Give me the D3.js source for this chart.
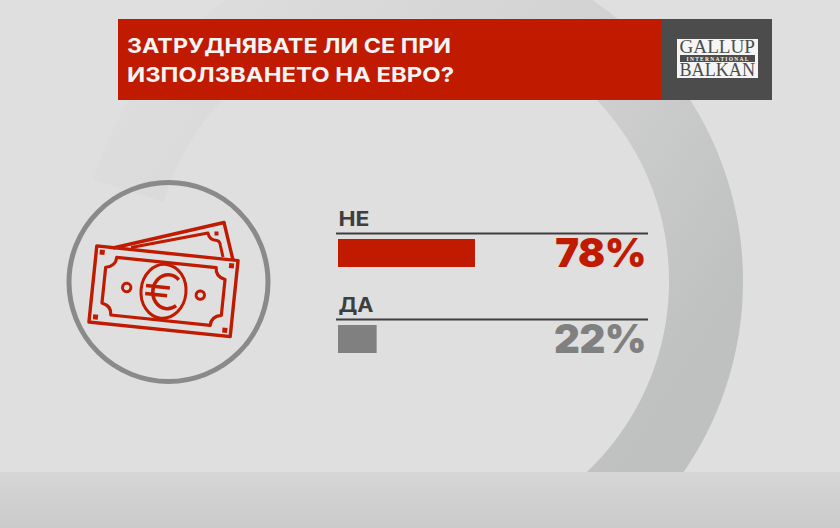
<!DOCTYPE html>
<html>
<head>
<meta charset="utf-8">
<script src="https://cdn.jsdelivr.net/npm/d3@7"></script>
<style>
  html, body { margin: 0; padding: 0; background: #dfdfdf; }
  svg { display: block; }
  text { font-family: Inter, "Open Sans", sans-serif; }
</style>
</head>
<body>
<div id="chart"></div>
<script>
const title_lines = ["ЗАТРУДНЯВАТЕ ЛИ СЕ ПРИ", "ИЗПОЛЗВАНЕТО НА ЕВРО?"];
const categories = ["НЕ", "ДА"];
const values = [78, 22];

const red = "#c01a00", grey = "#808080", dark = "#3e3e3e";

const svg = d3.select("#chart")
    .append("svg")
    .attr("width", 840)
    .attr("height", 528);

const defs = svg.append("defs");

const ring_grad = defs.append("linearGradient")
    .attr("id", "ring_grad")
    .attr("gradientUnits", "userSpaceOnUse")
    .attr("x1", 130).attr("y1", 90)
    .attr("x2", 650).attr("y2", 420);
ring_grad.append("stop").attr("offset", 0).attr("stop-color", "#dddddd");
ring_grad.append("stop").attr("offset", 0.55).attr("stop-color", "#d3d3d3");
ring_grad.append("stop").attr("offset", 1).attr("stop-color", "#bfc0c0");

const foot_grad = defs.append("linearGradient")
    .attr("id", "foot_grad")
    .attr("x1", 0).attr("y1", 0)
    .attr("x2", 0).attr("y2", 1);
foot_grad.append("stop").attr("offset", 0).attr("stop-color", "#d6d6d6");
foot_grad.append("stop").attr("offset", 1).attr("stop-color", "#cbcbcb");

// background ring, it tightens a little on the left side
const ring_cx = 406, ring_cy = 281;
const ring_angles = d3.range(-72, 170, 1).map(d => d * Math.PI / 180);
const shrink = a => a < 0 ? 8 * a / (-72 * Math.PI / 180) : 0;
const ring_point = (a, r) => [ring_cx + r * Math.sin(a), ring_cy - r * Math.cos(a)];
const outer_pts = ring_angles.map(a => ring_point(a, 337 - shrink(a)));
const inner_pts = ring_angles.map(a => ring_point(a, 263 - shrink(a))).reverse();

svg.append("path")
    .attr("d", d3.line()(outer_pts.concat(inner_pts)) + "Z")
    .attr("fill", "url(#ring_grad)");

svg.append("rect")
    .attr("x", 0).attr("y", 472)
    .attr("width", 840).attr("height", 56)
    .attr("fill", "url(#foot_grad)");

// header
svg.append("rect")
    .attr("x", 118).attr("y", 19)
    .attr("width", 544).attr("height", 81)
    .attr("fill", red);
svg.append("rect")
    .attr("x", 662).attr("y", 19)
    .attr("width", 110).attr("height", 81)
    .attr("fill", "#4c4c4c");

svg.selectAll(".title")
    .data(title_lines)
    .enter().append("text")
    .attr("class", "title")
    .attr("x", 127)
    .attr("y", (d, i) => 53 + i * 29)
    .attr("textLength", (d, i) => i == 0 ? 324 : 327)
    .attr("lengthAdjust", "spacingAndGlyphs")
    .attr("fill", "#f4f4f4")
    .attr("font-size", 20.5)
    .attr("font-weight", 700)
    .text(d => d);

// logo
const logo = svg.append("g");
logo.append("rect")
    .attr("x", 677).attr("y", 39)
    .attr("width", 81).attr("height", 39)
    .attr("fill", "#f5f5f5");
logo.append("rect")
    .attr("x", 680).attr("y", 55)
    .attr("width", 75).attr("height", 7)
    .attr("fill", "#4c4c4c");
logo.selectAll(".logo_big")
    .data([["GALLUP", 53], ["BALKAN", 75.5]])
    .enter().append("text")
    .attr("class", "logo_big")
    .attr("x", 679.5)
    .attr("y", d => d[1])
    .attr("textLength", 75.5)
    .attr("lengthAdjust", "spacingAndGlyphs")
    .attr("fill", "#4c4c4c")
    .style("font-family", "'Liberation Serif'")
    .attr("font-size", 18)
    .text(d => d[0]);
logo.append("text")
    .attr("x", 717.5)
    .attr("y", 60.7)
    .attr("text-anchor", "middle")
    .attr("textLength", 62)
    .attr("fill", "#f5f5f5")
    .style("font-family", "'Liberation Serif'")
    .attr("font-size", 5.5)
    .attr("font-weight", 700)
    .text("INTERNATIONAL");

// bars
const x = d3.scaleLinear()
    .domain([0, 100])
    .range([338, 513.6]);
const y = d3.scaleBand()
    .domain(categories)
    .range([239, 353])
    .paddingInner(58 / 86)
    .paddingOuter(0);
const color = d3.scaleOrdinal()
    .domain(categories)
    .range([red, grey]);

const rows = categories.map((c, i) => ({name: c, value: values[i]}));

svg.selectAll(".rule")
    .data(rows)
    .enter().append("line")
    .attr("class", "rule")
    .attr("x1", 336).attr("x2", 648)
    .attr("y1", d => y(d.name) - 5.5)
    .attr("y2", d => y(d.name) - 5.5)
    .attr("stroke", dark)
    .attr("stroke-width", 2);

svg.selectAll(".label")
    .data(rows)
    .enter().append("text")
    .attr("class", "label")
    .attr("x", 338.5)
    .attr("y", d => y(d.name) - 13)
    .attr("textLength", (d, i) => i == 0 ? 31 : 35)
    .attr("lengthAdjust", "spacingAndGlyphs")
    .attr("fill", dark)
    .attr("font-size", 19.5)
    .attr("font-weight", 700)
    .text(d => d.name);

svg.selectAll(".bar")
    .data(rows)
    .enter().append("rect")
    .attr("class", "bar")
    .attr("x", x(0))
    .attr("y", d => y(d.name))
    .attr("width", d => x(d.value) - x(0))
    .attr("height", y.bandwidth())
    .attr("fill", d => color(d.name));

svg.selectAll(".value")
    .data(rows)
    .enter().append("text")
    .attr("class", "value")
    .attr("x", 646)
    .attr("y", d => y(d.name) + 28)
    .attr("text-anchor", "end")
    .attr("fill", d => color(d.name))
    .attr("font-size", 40)
    .attr("font-weight", 900)
    .attr("letter-spacing", -0.5)
    .text(d => d.value + "%");

// icon
svg.append("circle")
    .attr("cx", 168.5).attr("cy", 282)
    .attr("r", 99.5)
    .attr("fill", "none")
    .attr("stroke", "#8a8a8a")
    .attr("stroke-width", 5);

const icon = svg.append("g")
    .attr("fill", "none")
    .attr("stroke", red)
    .attr("stroke-width", 3.4)
    .attr("stroke-linejoin", "round");

// note behind
icon.append("path")
    .attr("d", "M113,248 L224,222.5 L233,260");
icon.append("path")
    .attr("stroke-width", 3)
    .attr("d", "M131,247.5 L208,233 Q209,240 217,240.5 Q220,241 220.5,246 L223,257");
icon.append("rect")
    .attr("x", 214.5).attr("y", 231.5)
    .attr("width", 4).attr("height", 4)
    .attr("stroke", "none")
    .attr("fill", red);

// note in front
const note = icon.append("g")
    .attr("transform", "translate(163.5,291.3) rotate(5.9)");
note.append("rect")
    .attr("x", -71).attr("y", -38.2)
    .attr("width", 142).attr("height", 76.4);
note.append("path")
    .attr("stroke-width", 3.2)
    .attr("d", "M-50,-29 L50,-29 Q50,-20 60,-18 L60,18 Q50,20 50,29 L-50,29 Q-50,20 -60,18 L-60,-18 Q-50,-20 -50,-29 Z");
note.append("ellipse")
    .attr("rx", 22.5).attr("ry", 27)
    .attr("stroke-width", 3);
note.selectAll(".dot")
    .data([-37, 37])
    .enter().append("circle")
    .attr("class", "dot")
    .attr("cx", d => d)
    .attr("r", 4.2)
    .attr("stroke-width", 3);
note.selectAll(".corner")
    .data([[-65, -32.5], [65, -32.5], [-65, 32.5], [65, 32.5]])
    .enter().append("rect")
    .attr("class", "corner")
    .attr("x", d => d[0] - 2.5)
    .attr("y", d => d[1] - 2.5)
    .attr("width", 5).attr("height", 5)
    .attr("stroke", "none")
    .attr("fill", red);
// euro sign
note.append("path")
    .attr("stroke-width", 3.6)
    .attr("d", "M14,-13 A15,17 0 1 0 14,13 M-18,-4 L6,-4 M-18,4 L4,4");
</script>
</body>
</html>
